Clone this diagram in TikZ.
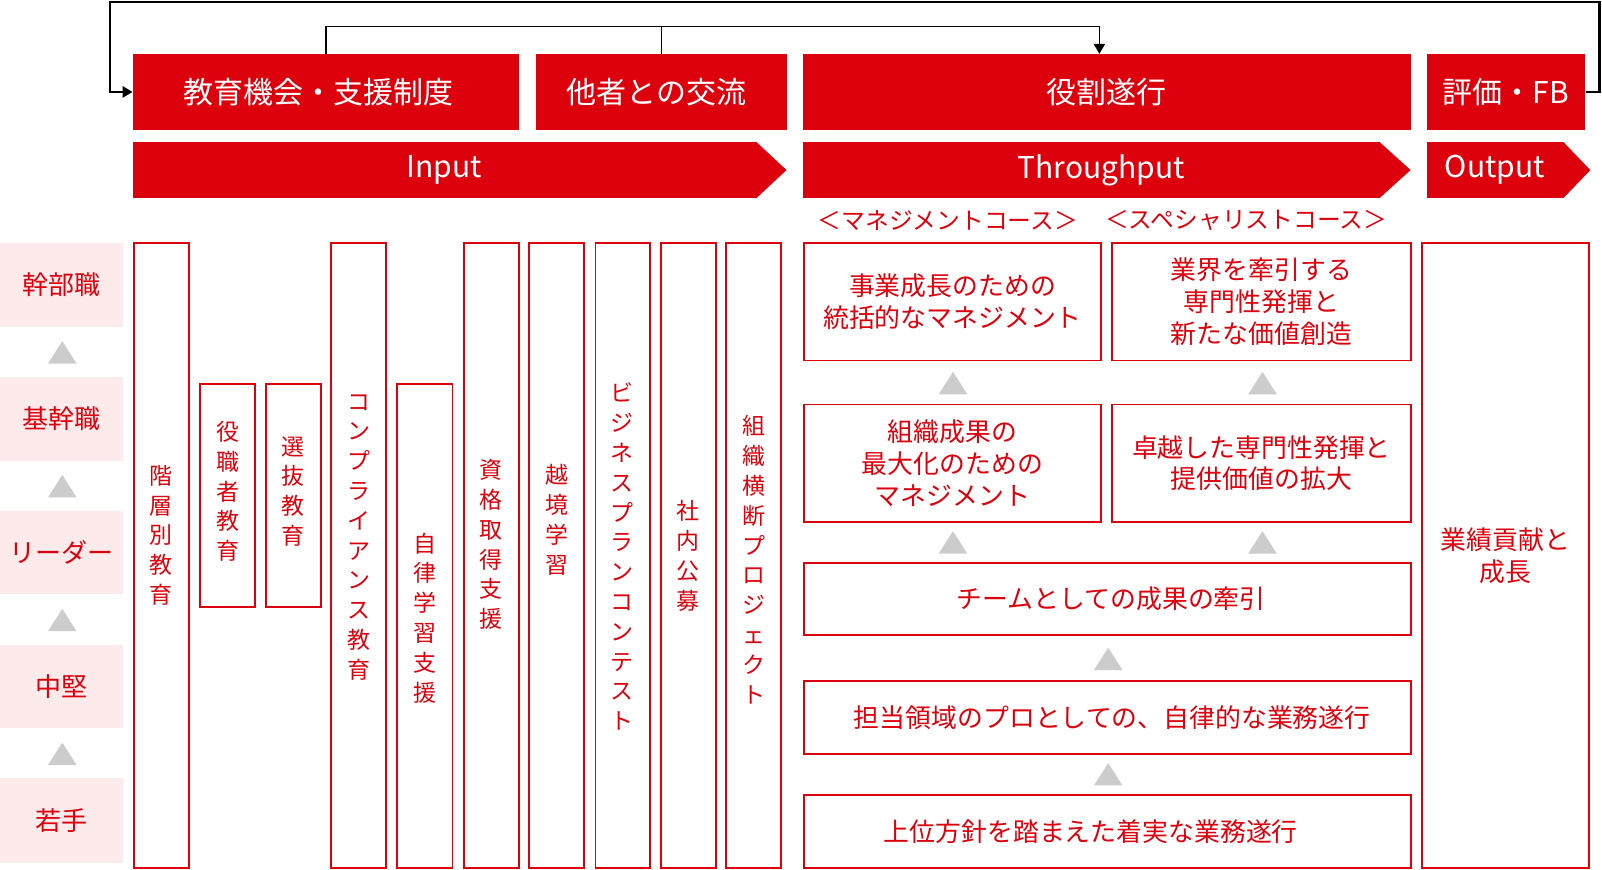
\documentclass[tikz,border=0pt]{standalone}
\usepackage{fontspec}
\setmainfont{Noto Sans CJK JP}
\usetikzlibrary{arrows.meta}
\definecolor{brand}{HTML}{DC000C}
\definecolor{pinkbg}{HTML}{FDEBEC}
\definecolor{trigray}{HTML}{CCCCCC}
% name, x1, y1, x2, y2, style, text
\newcommand\pbox[7]{%
  \pgfmathsetmacro\bcx{(#2+#4)/2}\pgfmathsetmacro\bcy{(#3+#5)/2}%
  \pgfmathsetmacro\bww{(#4-#2)*0.766}\pgfmathsetmacro\bhh{(#5-#3)*0.766}%
  \node[#6, minimum width=\bww pt, minimum height=\bhh pt] (#1) at (\bcx,\bcy) {#7};}
% same, with the text shifted horizontally by #8 (pt) in its own node
\newcommand\pboxs[8]{%
  \pbox{#1}{#2}{#3}{#4}{#5}{#6}{}%
  \node[#6, fill=none, draw=none] (#1-t) at ([xshift=#8]#1.center) {#7};}
\newcommand\uptri[2]{\fill[trigray] (#1-14,#2+11) -- (#1,#2-11) -- (#1+14,#2+11) -- cycle;}
\tikzset{
  hdr/.style={fill=brand, text=white, font=\fontsize{22.5}{27}\selectfont, inner sep=0pt},
  lvl/.style={fill=pinkbg, text=brand, font=\fontsize{19.5}{23}\selectfont, inner sep=0pt},
  colbox/.style={draw=brand, line width=1.4pt, fill=white, inner sep=0pt},
  coltxt/.style={text=brand, font=\fontsize{17.2}{22.35}\selectfont, align=center, inner sep=0pt},
  rbox/.style={draw=brand, line width=1.4pt, text=brand, font=\fontsize{19.4}{23.75}\selectfont, align=center, inner sep=0pt},
  course/.style={text=brand, font=\fontsize{17.8}{21}\selectfont, inner sep=0pt},
  fbline/.style={black, line width=1.6pt},
  fbinner/.style={black, line width=1.1pt},
  tip/.style={-{Triangle[length=7.5pt,width=8.5pt]}}
}
\begin{document}
\begin{tikzpicture}[x=0.766pt,y=-0.766pt]
\useasboundingbox (0,0) rectangle (1568.4,851.7);

% header boxes
\pboxs{edu}{130}{53}{508}{127}{hdr}{教育機会・支援制度}{-5.4pt}
\pboxs{oth}{525}{53}{770}{127}{hdr}{他者との交流}{-3.8pt}
\pbox{role}{786}{53}{1381}{127}{hdr}{役割遂行}
\pbox{fb}{1397}{53}{1552}{127}{hdr}{評価・FB}

% arrow bars
\pbox{inp}{130}{139}{740}{194}{hdr}{Input}
\fill[brand] (inp.north east) -- (770,166.5) -- (inp.south east) -- cycle;
\pboxs{thr}{786}{139}{1350}{194}{hdr}{Throughput}{7.7pt}
\fill[brand] (thr.north east) -- (1381,166.5) -- (thr.south east) -- cycle;
\pbox{outp}{1397}{139}{1530}{194}{hdr}{Output}
\fill[brand] (outp.north east) -- (1557,166.5) -- (outp.south east) -- cycle;

% feedback lines
\coordinate (loopR) at (1566,2);
\coordinate (loopL) at (108,2);
\draw[fbline,tip] (fb.east) -| (loopR) -- (loopL) |- (edu.west);
\coordinate (bus) at (700,26);
\draw[fbinner,tip] (edu.north) |- (bus) -| ([xshift=-5.5pt]role.north);
\draw[fbinner] (oth.north) -- (oth.north |- bus);

% course labels
\node[course] (mgc) at (928,216) {＜マネジメントコース＞};
\node[course] (spc) at (1220,216) {＜スペシャリストコース＞};

% levels
\pbox{l5}{0}{238}{120}{320}{lvl}{幹部職}
\pbox{l4}{0}{369}{120}{451}{lvl}{基幹職}
\pbox{l3}{0}{500}{120}{582}{lvl}{リーダー}
\pbox{l2}{0}{631}{120}{713}{lvl}{中堅}
\pbox{l1}{0}{762}{120}{845}{lvl}{若手}
\uptri{61}{345}
\uptri{61}{476}
\uptri{61}{607}
\uptri{61}{738}

% input columns
\pbox{c1}{131}{238}{185}{850}{colbox}{}
\pbox{c2}{196}{376}{250}{594}{colbox}{}
\pbox{c3}{260}{376}{314}{594}{colbox}{}
\pbox{c4}{324}{238}{378}{850}{colbox}{}
\pbox{c5}{389}{376}{443}{850}{colbox}{}
\pbox{c6}{454}{238}{508}{850}{colbox}{}
\pbox{c7}{518}{238}{572}{850}{colbox}{}
\pbox{c8}{583}{238}{636}{850}{colbox}{}
\pbox{c9}{647}{238}{701}{850}{colbox}{}
\pbox{c10}{711}{238}{765}{850}{colbox}{}
\node[coltxt] (t1) at (158,524) {階\\層\\別\\教\\育};
\node[coltxt] (t2) at (223,481) {役\\職\\者\\教\\育};
\node[coltxt] (t3) at (287,481) {選\\抜\\教\\育};
\node[coltxt] (t4) at (351,526) {コ\\ン\\プ\\ラ\\イ\\ア\\ン\\ス\\教\\育};
\node[coltxt] (t5) at (416,605) {自\\律\\学\\習\\支\\援};
\node[coltxt] (t6) at (481,533) {資\\格\\取\\得\\支\\援};
\node[coltxt] (t7) at (545,509) {越\\境\\学\\習};
\node[coltxt] (t8) at (609,545) {ビ\\ジ\\ネ\\ス\\プ\\ラ\\ン\\コ\\ン\\テ\\ス\\ト};
\node[coltxt] (t9) at (674,544) {社\\内\\公\\募};
\node[coltxt] (t10) at (738,548) {組\\織\\横\\断\\プ\\ロ\\ジ\\ェ\\ク\\ト};

% throughput boxes
\pbox{m2}{787}{238}{1078}{353}{rbox}{事業成長のための\\統括的なマネジメント}
\pbox{s2}{1089}{238}{1381}{353}{rbox}{業界を牽引する\\専門性発揮と\\新たな価値創造}
\pbox{m1}{787}{396}{1078}{511}{rbox}{組織成果の\\最大化のための\\マネジメント}
\pbox{s1}{1089}{396}{1381}{511}{rbox}{卓越した専門性発揮と\\提供価値の拡大}
\pboxs{b3}{787}{551}{1381}{622}{rbox}{チームとしての成果の牽引}{3pt}
\pboxs{b2}{787}{667}{1381}{738}{rbox}{担当領域のプロとしての、自律的な業務遂行}{3.8pt}
\pboxs{b1}{787}{778}{1381}{850}{rbox}{上位方針を踏まえた着実な業務遂行}{-12.3pt}
\uptri{933}{375}
\uptri{1236}{375}
\uptri{933}{531}
\uptri{1236}{531}
\uptri{1085}{645}
\uptri{1085}{758}

% output box
\pbox{ob}{1392}{238}{1556}{850}{rbox}{業績貢献と\\成長}
\end{tikzpicture}
\end{document}
